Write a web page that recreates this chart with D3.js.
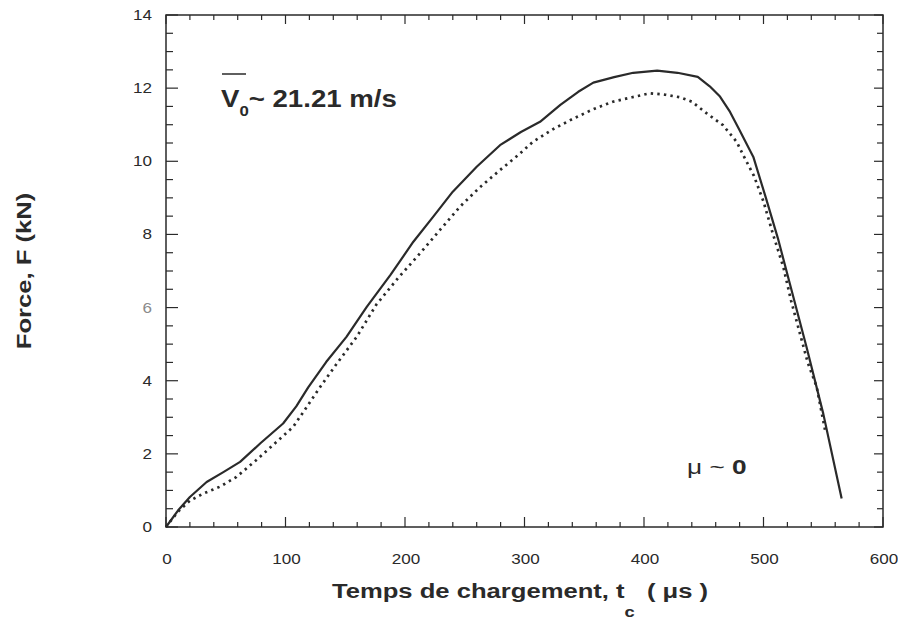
<!DOCTYPE html>
<html><head><meta charset="utf-8">
<script src="https://cdn.jsdelivr.net/npm/d3@7"></script>
<style>body{margin:0;background:#fff}svg{display:block}</style>
</head><body>
<svg id="c" width="898" height="625"></svg>
<script>
const solidT = [0,10,20,34,48,62,79,98,109,119,134,151,168,188,207,224,240,260,279.5,297,313,330,345,357.6,375,391,411,428,445,455,463.6,472,480,491.5,502,512,522,536,550,565.4];
const solidF = [0,0.45,0.82,1.23,1.5,1.78,2.29,2.83,3.3,3.82,4.51,5.2,6.02,6.9,7.8,8.5,9.17,9.85,10.44,10.8,11.08,11.54,11.9,12.15,12.3,12.42,12.48,12.42,12.31,12.05,11.77,11.35,10.85,10.12,9.0,7.9,6.66,4.92,3.1,0.78];
const dotT = [0,10,20,31,45,59,76,92.6,106.5,117.7,129,143,159.6,176,194,212.5,230,246,263,279.5,294,307,324,341,358,374,390,405,418,430,440,452.5,466,477.6,483,492,500,508,516.6,523,530.5,537,544.5,551.5];
const dotF = [0,0.42,0.72,0.91,1.1,1.37,1.84,2.33,2.74,3.28,3.83,4.47,5.2,6.08,6.8,7.48,8.15,8.76,9.3,9.76,10.15,10.53,10.88,11.17,11.43,11.63,11.75,11.86,11.82,11.75,11.63,11.31,10.99,10.53,10.17,9.6,8.9,8.0,7.11,6.2,5.29,4.5,3.83,2.65];
const xTicks = [0,100,200,300,400,500,600];
const yTicks = [0,2,4,6,8,10,12,14];

const svg = d3.select("#c");
const L=166,R=883,T=15,B=527;
const x = d3.scaleLinear().domain([0,600]).range([L,R]);
const y = d3.scaleLinear().domain([0,14]).range([B,T]);
const ink="#2a2a2a";
const font="'Liberation Sans', Arial, Helvetica, sans-serif";
const SX = 1.22;

// frame
svg.append("rect").attr("x",L).attr("y",T).attr("width",R-L).attr("height",B-T)
  .attr("fill","none").attr("stroke",ink).attr("stroke-width",1.5);

const xMinor = d3.range(0,601,20);
const yMinor = d3.range(0,14.01,0.5);
const tg = svg.append("g").attr("stroke",ink).attr("stroke-width",1.2);
xMinor.forEach(v=>{
  const major = v%100===0;
  tg.append("line").attr("x1",x(v)).attr("x2",x(v)).attr("y1",B).attr("y2",B-(major?10:5));
  tg.append("line").attr("x1",x(v)).attr("x2",x(v)).attr("y1",T).attr("y2",T+(major?9:5));
});
yMinor.forEach(v=>{
  const major = Math.abs(v%2)<1e-6;
  tg.append("line").attr("x1",L).attr("x2",L+(major?12:7)).attr("y1",y(v)).attr("y2",y(v));
  tg.append("line").attr("x1",R).attr("x2",R-(major?9:6)).attr("y1",y(v)).attr("y2",y(v));
});

// tick labels
svg.append("g").selectAll("text").data(xTicks).join("text")
  .attr("transform",d=>`translate(${x(d)+1},564) scale(${SX},1)`).attr("text-anchor","middle")
  .attr("font-family",font).attr("font-size",14).attr("fill",ink).text(d=>d);
svg.append("g").selectAll("text").data(yTicks).join("text")
  .attr("transform",d=>`translate(152,${y(d)+5}) scale(${SX},1)`).attr("text-anchor","end")
  .attr("font-family",font).attr("font-size",14).attr("fill",d=>d===6?"#8a8a8a":ink).text(d=>d);

// curves
const line = d3.line().x(d=>x(d[0])).y(d=>y(d[1]));
svg.append("path").datum(solidT.map((t,i)=>[t,solidF[i]])).attr("d",line)
  .attr("fill","none").attr("stroke",ink).attr("stroke-width",2.2).attr("stroke-linejoin","round");
svg.append("path").datum(dotT.map((t,i)=>[t,dotF[i]])).attr("d",line)
  .attr("fill","none").attr("stroke",ink).attr("stroke-width",2.7).attr("stroke-dasharray","2.4,4.2");

// annotations
const ann = svg.append("text").attr("transform",`translate(221,107) scale(1.2,1)`).attr("font-family",font)
  .attr("font-weight","bold").attr("font-size",23).attr("fill",ink);
ann.append("tspan").text("V");
ann.append("tspan").attr("font-size",14).attr("dy",9).text("0");
ann.append("tspan").attr("dy",-9).text("~ 21.21 m/s");
svg.append("line").attr("x1",222).attr("x2",246).attr("y1",74).attr("y2",74).attr("stroke",ink).attr("stroke-width",1.5);

const mu = svg.append("text").attr("transform",`translate(687,474) scale(1.25,1)`).attr("font-family",font)
  .attr("font-size",21).attr("fill",ink);
mu.append("tspan").text("μ ~ ");
mu.append("tspan").attr("font-weight","bold").text("0");

// axis titles
const xt = svg.append("text").attr("transform",`translate(332,598) scale(${SX},1)`).attr("font-family",font)
  .attr("font-weight","bold").attr("font-size",21).attr("fill",ink);
xt.append("tspan").text("Temps de chargement, t");
xt.append("tspan").attr("font-size",15).attr("dy",19).text("c");
xt.append("tspan").attr("dy",-19).attr("dx",10).text("( μs )");

svg.append("text").attr("transform",`translate(31,271) rotate(-90) scale(${SX},1)`).attr("text-anchor","middle")
  .attr("font-family",font).attr("font-weight","bold").attr("font-size",21).attr("fill",ink)
  .text("Force, F (kN)");
</script>
</body></html>
